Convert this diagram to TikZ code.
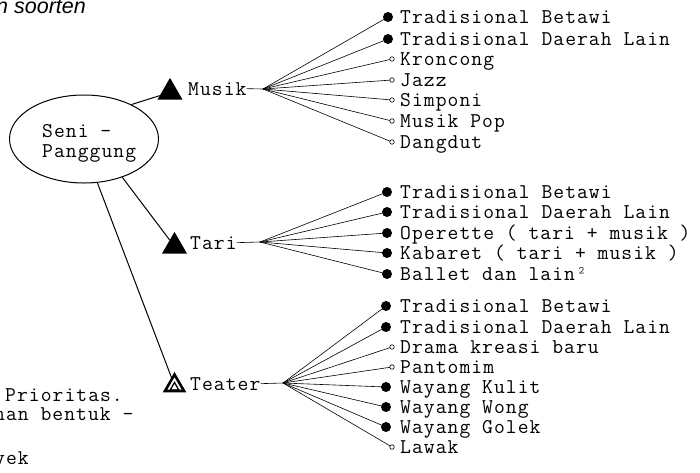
\documentclass[tikz,border=0pt]{standalone}
\usepackage{fontspec}
\setmainfont{Latin Modern Mono}[LetterSpace=5]
\newfontfamily\sansit{Liberation Sans}
\usetikzlibrary{shapes.geometric}
\begin{document}
\begin{tikzpicture}[x=1pt,y=-1pt,
  txt/.style={font=\fontsize{21}{22}\selectfont, inner sep=0pt, anchor=base west},
  fullbul/.style={circle, fill, inner sep=0pt, minimum size=10pt},
  openbul/.style={circle, draw, line width=0.6pt, fill=white, inner sep=0pt, minimum size=4.5pt},
  fan/.style={line width=0.6pt},
  link/.style={line width=1pt},
  tri/.style={regular polygon, regular polygon sides=3, inner sep=0pt, outer sep=0pt},
]
\fill[white] (0,0) rectangle (700,472);
\useasboundingbox (0,0) rectangle (700,472);

% caption fragment
\node[font=\sansit\itshape\fontsize{21.5}{23}\selectfont, anchor=base west, inner sep=0pt] (cap) at (-4,13) {n soorten};

% central ellipse
\node[ellipse, draw, line width=1pt, minimum width=149pt, minimum height=88pt, inner sep=0pt] (seni) at (84,139) {};
\node[txt] (senia) at (42,137) {Seni -};
\node[txt] (senib) at (42,157) {Panggung};

% category triangles and labels
\node[tri, fill, minimum size=29pt] (musiktri) at (170,92.4) {};
\node[tri, fill, minimum size=29pt] (taritri) at (174.5,246.4) {};
\node[tri, draw, line width=2.6pt, minimum size=22pt] (teatertri) at (174.5,385.5) {};
\node[tri, draw, line width=1.3pt, minimum size=10pt] (teaterin) at (174.5,387.5) {};

\node[txt] (musiklbl) at (188,95) {Musik};
\node[txt] (tarilbl) at (190,249) {Tari};
\node[txt] (teaterlbl) at (190,390) {Teater};

\draw[link] (seni.36) -- (musiktri);
\draw[link] (seni.-45) -- (taritri);
\draw[link] (seni.-73) -- (teatertri);

% fan origins
\coordinate (mfan) at (263,89);
\coordinate (tfan) at (260,242);
\coordinate (efan) at (283,383);
\draw[fan] (musiklbl.east) -- (mfan);
\draw[fan] (tarilbl.east) -- (tfan);
\draw[fan] (teaterlbl.east) -- (efan);

% Musik items
\foreach \x/\y/\s/\t [count=\i] in {
  388/17/fullbul/Tradisional Betawi,
  388/39/fullbul/Tradisional Daerah Lain,
  392/59/openbul/Kroncong,
  392/80/openbul/Jazz,
  392/100/openbul/Simponi,
  392/121/openbul/Musik Pop,
  392/142/openbul/Dangdut}{
  \draw[fan] (mfan) -- (\x,\y);
  \node[\s] (m\i) at (\x,\y) {};
  \node[txt] (m\i t) at (400,\y+6) {\t};
}

% Tari items
\foreach \x/\y/\s/\t [count=\i] in {
  387/192/fullbul/Tradisional Betawi,
  387/212/fullbul/Tradisional Daerah Lain,
  387/233/fullbul/Operette ( tari + musik ),
  387/253/fullbul/Kabaret ( tari + musik ),
  387/274/fullbul/Ballet dan lain²}{
  \draw[fan] (tfan) -- (\x,\y);
  \node[\s] (t\i) at (\x,\y) {};
  \node[txt] (t\i t) at (400,\y+6) {\t};
}

% Teater items
\foreach \x/\y/\s/\t [count=\i] in {
  386/306/fullbul/Tradisional Betawi,
  386/327/fullbul/Tradisional Daerah Lain,
  392/347/openbul/Drama kreasi baru,
  392/367/openbul/Pantomim,
  386/387/fullbul/Wayang Kulit,
  386/407/fullbul/Wayang Wong,
  386/427/fullbul/Wayang Golek,
  392/447/openbul/Lawak}{
  \draw[fan] (efan) -- (\x,\y);
  \node[\s] (e\i) at (\x,\y) {};
  \node[txt] (e\i t) at (400,\y+6) {\t};
}

% bottom-left text fragments
\node[txt] (n1) at (5,401) {Prioritas.};
\node[txt] (n2) at (-6,420) {nan bentuk -};
\node[txt] (n3) at (-6,464) {yek};
\end{tikzpicture}
\end{document}
